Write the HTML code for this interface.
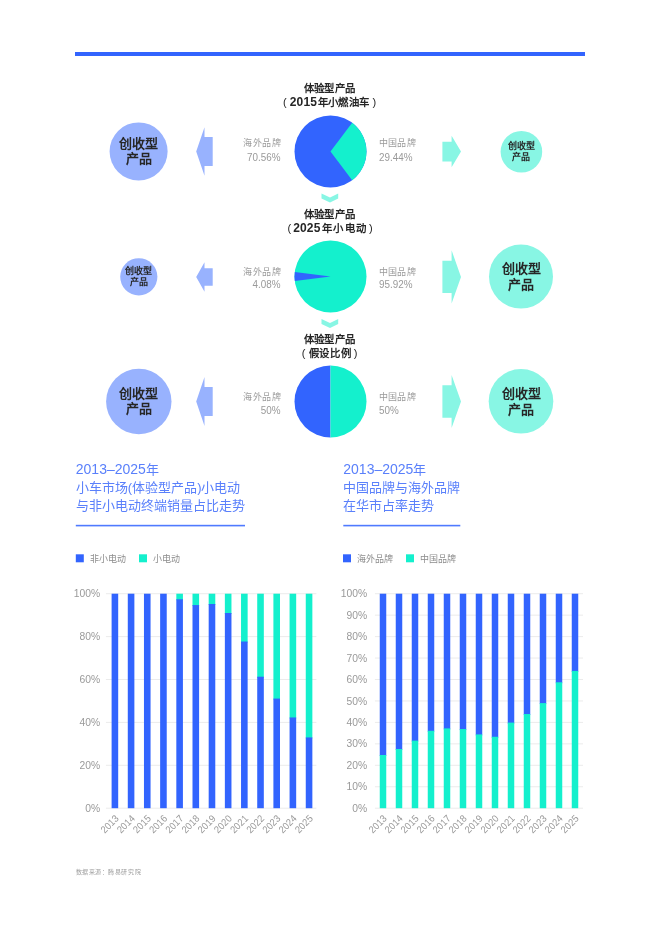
<!DOCTYPE html>
<html lang="zh-CN"><head><meta charset="utf-8"><title>小车市场</title>
<style>
html,body{margin:0;padding:0;background:#fff;}
body{width:660px;height:926px;overflow:hidden;position:relative;font-family:"Liberation Sans", sans-serif;}
svg{position:absolute;left:0;top:0;will-change:transform;}
text{font-family:"Liberation Sans", sans-serif;}
.t{position:absolute;white-space:nowrap;}
</style></head><body>
<svg width="660" height="926" viewBox="0 0 660 926">

<rect x="75" y="52" width="510" height="4" fill="#3264fe"/>
<circle cx="330.5" cy="151.5" r="36" fill="#3264fe"/>
<path d="M330.5,151.5 L352.17,122.75 A36,36 0 0 1 352.17,180.25 Z" fill="#14f0cd"/>
<circle cx="330.5" cy="276.5" r="36" fill="#14f0cd"/>
<path d="M330.5,276.5 L294.80,281.10 A36,36 0 0 1 294.80,271.90 Z" fill="#3264fe"/>
<path d="M330.5,401.5 L330.50,437.50 A36,36 0 0 1 330.50,365.50 Z" fill="#3264fe"/>
<path d="M330.5,401.5 L330.50,365.50 A36,36 0 0 1 330.50,437.50 Z" fill="#14f0cd"/>
<polygon points="321.5,193.6 330,197.6 338.2,193.6 338.2,198.6 330,202.6 321.5,198.6" fill="#88f6e4"/>
<polygon points="321.5,319.0 330,323.0 338.2,319.0 338.2,324.0 330,328.0 321.5,324.0" fill="#88f6e4"/>
<polygon points="212.7,137.0 204.5,137.0 204.5,127.3 196.2,151.5 204.5,175.7 204.5,166.0 212.7,166.0" fill="#98b2fe"/>
<polygon points="442.4,141.79999999999998 451.6,141.79999999999998 451.6,135.85 461,151.6 451.6,167.35 451.6,161.4 442.4,161.4" fill="#88f6e4"/>
<polygon points="212.7,268.2 204.5,268.2 204.5,262.3 196.2,277 204.5,291.7 204.5,285.8 212.7,285.8" fill="#98b2fe"/>
<polygon points="442.4,260.79999999999995 451.6,260.79999999999995 451.6,250.29999999999998 461,276.9 451.6,303.5 451.6,293.0 442.4,293.0" fill="#88f6e4"/>
<polygon points="212.7,387.0 204.5,387.0 204.5,377.1 196.2,401.5 204.5,425.9 204.5,416.0 212.7,416.0" fill="#98b2fe"/>
<polygon points="442.4,385.2 451.6,385.2 451.6,375.0 461,401.5 451.6,428.0 451.6,417.8 442.4,417.8" fill="#88f6e4"/>
<circle cx="138.6" cy="151.4" r="29" fill="#98b2fe"/>
<text x="138.65" y="147.70" font-size="13" font-weight="bold" fill="#262626" text-anchor="middle">创收型</text>
<text x="138.65" y="163.30" font-size="13" font-weight="bold" fill="#262626" text-anchor="middle">产品</text>
<circle cx="521.4" cy="151.8" r="20.8" fill="#88f6e4"/>
<text x="521.35" y="148.60" font-size="9" font-weight="bold" fill="#262626" text-anchor="middle">创收型</text>
<text x="521.35" y="160.40" font-size="9" font-weight="bold" fill="#262626" text-anchor="middle">产品</text>
<circle cx="138.8" cy="276.8" r="18.6" fill="#98b2fe"/>
<text x="138.75" y="273.70" font-size="9" font-weight="bold" fill="#262626" text-anchor="middle">创收型</text>
<text x="138.75" y="285.40" font-size="9" font-weight="bold" fill="#262626" text-anchor="middle">产品</text>
<circle cx="521" cy="276.6" r="32" fill="#88f6e4"/>
<text x="521.25" y="273.30" font-size="13" font-weight="bold" fill="#262626" text-anchor="middle">创收型</text>
<text x="521.25" y="289.20" font-size="13" font-weight="bold" fill="#262626" text-anchor="middle">产品</text>
<circle cx="138.8" cy="401.5" r="32.7" fill="#98b2fe"/>
<text x="138.65" y="397.70" font-size="13" font-weight="bold" fill="#262626" text-anchor="middle">创收型</text>
<text x="138.65" y="413.30" font-size="13" font-weight="bold" fill="#262626" text-anchor="middle">产品</text>
<circle cx="521" cy="401.3" r="32.3" fill="#88f6e4"/>
<text x="521.25" y="397.80" font-size="13" font-weight="bold" fill="#262626" text-anchor="middle">创收型</text>
<text x="521.25" y="413.90" font-size="13" font-weight="bold" fill="#262626" text-anchor="middle">产品</text>
<text x="303.60" y="92.20" font-size="10.4" font-weight="bold" fill="#262626" text-anchor="start" letter-spacing="0.4">体验型产品</text>
<text x="303.60" y="218.40" font-size="10.4" font-weight="bold" fill="#262626" text-anchor="start" letter-spacing="0.4">体验型产品</text>
<text x="303.60" y="343.40" font-size="10.4" font-weight="bold" fill="#262626" text-anchor="start" letter-spacing="0.4">体验型产品</text>
<text x="283.00" y="105.80" font-size="11" font-weight="normal" fill="#262626" text-anchor="start">(</text>
<text x="289.80" y="105.80" font-size="12" font-weight="bold" fill="#262626" text-anchor="start" letter-spacing="0.15">2015</text>
<text x="317.60" y="105.80" font-size="10.4" font-weight="bold" fill="#262626" text-anchor="start" letter-spacing="0.4">年小燃油车</text>
<text x="372.40" y="105.80" font-size="11" font-weight="normal" fill="#262626" text-anchor="start">)</text>
<text x="287.40" y="232.00" font-size="11" font-weight="normal" fill="#262626" text-anchor="start">(</text>
<text x="293.20" y="232.00" font-size="12" font-weight="bold" fill="#262626" text-anchor="start" letter-spacing="0.15">2025</text>
<text x="322.10" y="232.00" font-size="10.4" font-weight="bold" fill="#262626" text-anchor="start" letter-spacing="1.4">年小电动</text>
<text x="368.90" y="232.00" font-size="11" font-weight="normal" fill="#262626" text-anchor="start">)</text>
<text x="301.80" y="357.00" font-size="11" font-weight="normal" fill="#262626" text-anchor="start">(</text>
<text x="308.90" y="357.00" font-size="10.4" font-weight="bold" fill="#262626" text-anchor="start" letter-spacing="0.6">假设比例</text>
<text x="353.80" y="357.00" font-size="11" font-weight="normal" fill="#262626" text-anchor="start">)</text>
<text x="281.0" y="146.30" font-size="9" letter-spacing="0.4" fill="#9a9a9a" text-anchor="end">海外品牌</text>
<text transform="translate(280.6,160.80) scale(0.97,1)" font-size="10.2" fill="#9a9a9a" text-anchor="end">70.56%</text>
<text x="378.7" y="146.30" font-size="9" letter-spacing="0.4" fill="#9a9a9a">中国品牌</text>
<text transform="translate(379.0,160.80) scale(0.97,1)" font-size="10.2" fill="#9a9a9a">29.44%</text>
<text x="281.0" y="274.70" font-size="9" letter-spacing="0.4" fill="#9a9a9a" text-anchor="end">海外品牌</text>
<text transform="translate(280.6,288.30) scale(0.97,1)" font-size="10.2" fill="#9a9a9a" text-anchor="end">4.08%</text>
<text x="378.7" y="274.70" font-size="9" letter-spacing="0.4" fill="#9a9a9a">中国品牌</text>
<text transform="translate(379.0,288.30) scale(0.97,1)" font-size="10.2" fill="#9a9a9a">95.92%</text>
<text x="281.0" y="399.70" font-size="9" letter-spacing="0.4" fill="#9a9a9a" text-anchor="end">海外品牌</text>
<text transform="translate(280.6,413.70) scale(0.97,1)" font-size="10.2" fill="#9a9a9a" text-anchor="end">50%</text>
<text x="378.7" y="399.70" font-size="9" letter-spacing="0.4" fill="#9a9a9a">中国品牌</text>
<text transform="translate(379.0,413.70) scale(0.97,1)" font-size="10.2" fill="#9a9a9a">50%</text>
<text x="75.8" y="474.2" font-size="13" fill="#5a80fb"><tspan font-size="14">2013–2025</tspan>年</text>
<text x="75.8" y="492.3" font-size="13" fill="#5a80fb">小车市场(体验型产品)小电动</text>
<text x="75.8" y="510.0" font-size="13" fill="#5a80fb">与非小电动终端销量占比走势</text>
<rect x="75.8" y="524.8" width="169.2" height="1.6" fill="#4f7aff"/>
<text x="343.3" y="474.2" font-size="13" fill="#5a80fb"><tspan font-size="14">2013–2025</tspan>年</text>
<text x="343.3" y="492.3" font-size="13" fill="#5a80fb">中国品牌与海外品牌</text>
<text x="343.3" y="510.0" font-size="13" fill="#5a80fb">在华市占率走势</text>
<rect x="343.3" y="524.8" width="117" height="1.6" fill="#4f7aff"/>
<rect x="75.8" y="554.3" width="8" height="8" fill="#3264fe"/>
<text x="89.8" y="562" font-size="9" fill="#8c8c8c">非小电动</text>
<rect x="139" y="554.3" width="8" height="8" fill="#14f0cd"/>
<text x="152.8" y="562" font-size="9" fill="#8c8c8c">小电动</text>
<rect x="343" y="554.3" width="8" height="8" fill="#3264fe"/>
<text x="356.8" y="562" font-size="9" fill="#8c8c8c">海外品牌</text>
<rect x="406" y="554.3" width="8" height="8" fill="#14f0cd"/>
<text x="420.1" y="562" font-size="9" fill="#8c8c8c">中国品牌</text>
<rect x="105.9" y="807.70" width="210.49999999999997" height="1" fill="#ebebeb"/>
<text x="100.2" y="811.80" font-size="10.3" fill="#999" text-anchor="end">0%</text>
<rect x="105.9" y="764.80" width="210.49999999999997" height="1" fill="#ebebeb"/>
<text x="100.2" y="768.90" font-size="10.3" fill="#999" text-anchor="end">20%</text>
<rect x="105.9" y="721.90" width="210.49999999999997" height="1" fill="#ebebeb"/>
<text x="100.2" y="726.00" font-size="10.3" fill="#999" text-anchor="end">40%</text>
<rect x="105.9" y="679.00" width="210.49999999999997" height="1" fill="#ebebeb"/>
<text x="100.2" y="683.10" font-size="10.3" fill="#999" text-anchor="end">60%</text>
<rect x="105.9" y="636.10" width="210.49999999999997" height="1" fill="#ebebeb"/>
<text x="100.2" y="640.20" font-size="10.3" fill="#999" text-anchor="end">80%</text>
<rect x="105.9" y="593.20" width="210.49999999999997" height="1" fill="#ebebeb"/>
<text x="100.2" y="597.30" font-size="10.3" fill="#999" text-anchor="end">100%</text>
<rect x="111.60" y="593.70" width="6.6" height="214.50" fill="#3264fe"/>
<text transform="translate(114.10,813.9) rotate(-45) scale(0.93,1)" font-size="10" letter-spacing="0.0" fill="#999" text-anchor="end" dominant-baseline="hanging">2013</text>
<rect x="127.78" y="593.70" width="6.6" height="214.50" fill="#3264fe"/>
<text transform="translate(130.28,813.9) rotate(-45) scale(0.93,1)" font-size="10" letter-spacing="0.0" fill="#999" text-anchor="end" dominant-baseline="hanging">2014</text>
<rect x="143.96" y="593.70" width="6.6" height="214.50" fill="#3264fe"/>
<text transform="translate(146.46,813.9) rotate(-45) scale(0.93,1)" font-size="10" letter-spacing="0.0" fill="#999" text-anchor="end" dominant-baseline="hanging">2015</text>
<rect x="160.14" y="593.70" width="6.6" height="214.50" fill="#3264fe"/>
<text transform="translate(162.64,813.9) rotate(-45) scale(0.93,1)" font-size="10" letter-spacing="0.0" fill="#999" text-anchor="end" dominant-baseline="hanging">2016</text>
<rect x="176.32" y="593.70" width="6.6" height="6.58" fill="#14f0cd"/>
<rect x="176.32" y="599.28" width="6.6" height="208.92" fill="#3264fe"/>
<text transform="translate(178.82,813.9) rotate(-45) scale(0.93,1)" font-size="10" letter-spacing="0.0" fill="#999" text-anchor="end" dominant-baseline="hanging">2017</text>
<rect x="192.50" y="593.70" width="6.6" height="12.37" fill="#14f0cd"/>
<rect x="192.50" y="605.07" width="6.6" height="203.13" fill="#3264fe"/>
<text transform="translate(195.00,813.9) rotate(-45) scale(0.93,1)" font-size="10" letter-spacing="0.0" fill="#999" text-anchor="end" dominant-baseline="hanging">2018</text>
<rect x="208.68" y="593.70" width="6.6" height="11.30" fill="#14f0cd"/>
<rect x="208.68" y="604.00" width="6.6" height="204.20" fill="#3264fe"/>
<text transform="translate(211.18,813.9) rotate(-45) scale(0.93,1)" font-size="10" letter-spacing="0.0" fill="#999" text-anchor="end" dominant-baseline="hanging">2019</text>
<rect x="224.86" y="593.70" width="6.6" height="20.31" fill="#14f0cd"/>
<rect x="224.86" y="613.01" width="6.6" height="195.19" fill="#3264fe"/>
<text transform="translate(227.36,813.9) rotate(-45) scale(0.93,1)" font-size="10" letter-spacing="0.0" fill="#999" text-anchor="end" dominant-baseline="hanging">2020</text>
<rect x="241.04" y="593.70" width="6.6" height="48.83" fill="#14f0cd"/>
<rect x="241.04" y="641.53" width="6.6" height="166.67" fill="#3264fe"/>
<text transform="translate(243.54,813.9) rotate(-45) scale(0.93,1)" font-size="10" letter-spacing="0.0" fill="#999" text-anchor="end" dominant-baseline="hanging">2021</text>
<rect x="257.22" y="593.70" width="6.6" height="84.01" fill="#14f0cd"/>
<rect x="257.22" y="676.71" width="6.6" height="131.49" fill="#3264fe"/>
<text transform="translate(259.72,813.9) rotate(-45) scale(0.93,1)" font-size="10" letter-spacing="0.0" fill="#999" text-anchor="end" dominant-baseline="hanging">2022</text>
<rect x="273.40" y="593.70" width="6.6" height="105.89" fill="#14f0cd"/>
<rect x="273.40" y="698.59" width="6.6" height="109.61" fill="#3264fe"/>
<text transform="translate(275.90,813.9) rotate(-45) scale(0.93,1)" font-size="10" letter-spacing="0.0" fill="#999" text-anchor="end" dominant-baseline="hanging">2023</text>
<rect x="289.58" y="593.70" width="6.6" height="124.77" fill="#14f0cd"/>
<rect x="289.58" y="717.47" width="6.6" height="90.73" fill="#3264fe"/>
<text transform="translate(292.08,813.9) rotate(-45) scale(0.93,1)" font-size="10" letter-spacing="0.0" fill="#999" text-anchor="end" dominant-baseline="hanging">2024</text>
<rect x="305.76" y="593.70" width="6.6" height="144.72" fill="#14f0cd"/>
<rect x="305.76" y="737.42" width="6.6" height="70.78" fill="#3264fe"/>
<text transform="translate(308.26,813.9) rotate(-45) scale(0.93,1)" font-size="10" letter-spacing="0.0" fill="#999" text-anchor="end" dominant-baseline="hanging">2025</text>
<rect x="374.9" y="807.70" width="208.10000000000002" height="1" fill="#ebebeb"/>
<text x="367.1" y="811.80" font-size="10.3" fill="#999" text-anchor="end">0%</text>
<rect x="374.9" y="786.25" width="208.10000000000002" height="1" fill="#ebebeb"/>
<text x="367.1" y="790.35" font-size="10.3" fill="#999" text-anchor="end">10%</text>
<rect x="374.9" y="764.80" width="208.10000000000002" height="1" fill="#ebebeb"/>
<text x="367.1" y="768.90" font-size="10.3" fill="#999" text-anchor="end">20%</text>
<rect x="374.9" y="743.35" width="208.10000000000002" height="1" fill="#ebebeb"/>
<text x="367.1" y="747.45" font-size="10.3" fill="#999" text-anchor="end">30%</text>
<rect x="374.9" y="721.90" width="208.10000000000002" height="1" fill="#ebebeb"/>
<text x="367.1" y="726.00" font-size="10.3" fill="#999" text-anchor="end">40%</text>
<rect x="374.9" y="700.45" width="208.10000000000002" height="1" fill="#ebebeb"/>
<text x="367.1" y="704.55" font-size="10.3" fill="#999" text-anchor="end">50%</text>
<rect x="374.9" y="679.00" width="208.10000000000002" height="1" fill="#ebebeb"/>
<text x="367.1" y="683.10" font-size="10.3" fill="#999" text-anchor="end">60%</text>
<rect x="374.9" y="657.55" width="208.10000000000002" height="1" fill="#ebebeb"/>
<text x="367.1" y="661.65" font-size="10.3" fill="#999" text-anchor="end">70%</text>
<rect x="374.9" y="636.10" width="208.10000000000002" height="1" fill="#ebebeb"/>
<text x="367.1" y="640.20" font-size="10.3" fill="#999" text-anchor="end">80%</text>
<rect x="374.9" y="614.65" width="208.10000000000002" height="1" fill="#ebebeb"/>
<text x="367.1" y="618.75" font-size="10.3" fill="#999" text-anchor="end">90%</text>
<rect x="374.9" y="593.20" width="208.10000000000002" height="1" fill="#ebebeb"/>
<text x="367.1" y="597.30" font-size="10.3" fill="#999" text-anchor="end">100%</text>
<rect x="379.75" y="593.70" width="6.5" height="162.30" fill="#3264fe"/>
<rect x="379.75" y="755.00" width="6.5" height="53.20" fill="#14f0cd"/>
<text transform="translate(382.20,813.9) rotate(-45) scale(0.93,1)" font-size="10" letter-spacing="0.0" fill="#999" text-anchor="end" dominant-baseline="hanging">2013</text>
<rect x="395.75" y="593.70" width="6.5" height="156.30" fill="#3264fe"/>
<rect x="395.75" y="749.00" width="6.5" height="59.20" fill="#14f0cd"/>
<text transform="translate(398.20,813.9) rotate(-45) scale(0.93,1)" font-size="10" letter-spacing="0.0" fill="#999" text-anchor="end" dominant-baseline="hanging">2014</text>
<rect x="411.75" y="593.70" width="6.5" height="147.93" fill="#3264fe"/>
<rect x="411.75" y="740.63" width="6.5" height="67.57" fill="#14f0cd"/>
<text transform="translate(414.20,813.9) rotate(-45) scale(0.93,1)" font-size="10" letter-spacing="0.0" fill="#999" text-anchor="end" dominant-baseline="hanging">2015</text>
<rect x="427.75" y="593.70" width="6.5" height="138.07" fill="#3264fe"/>
<rect x="427.75" y="730.77" width="6.5" height="77.43" fill="#14f0cd"/>
<text transform="translate(430.20,813.9) rotate(-45) scale(0.93,1)" font-size="10" letter-spacing="0.0" fill="#999" text-anchor="end" dominant-baseline="hanging">2016</text>
<rect x="443.75" y="593.70" width="6.5" height="135.71" fill="#3264fe"/>
<rect x="443.75" y="728.41" width="6.5" height="79.79" fill="#14f0cd"/>
<text transform="translate(446.20,813.9) rotate(-45) scale(0.93,1)" font-size="10" letter-spacing="0.0" fill="#999" text-anchor="end" dominant-baseline="hanging">2017</text>
<rect x="459.75" y="593.70" width="6.5" height="136.35" fill="#3264fe"/>
<rect x="459.75" y="729.05" width="6.5" height="79.15" fill="#14f0cd"/>
<text transform="translate(462.20,813.9) rotate(-45) scale(0.93,1)" font-size="10" letter-spacing="0.0" fill="#999" text-anchor="end" dominant-baseline="hanging">2018</text>
<rect x="475.75" y="593.70" width="6.5" height="141.71" fill="#3264fe"/>
<rect x="475.75" y="734.41" width="6.5" height="73.79" fill="#14f0cd"/>
<text transform="translate(478.20,813.9) rotate(-45) scale(0.93,1)" font-size="10" letter-spacing="0.0" fill="#999" text-anchor="end" dominant-baseline="hanging">2019</text>
<rect x="491.75" y="593.70" width="6.5" height="144.07" fill="#3264fe"/>
<rect x="491.75" y="736.77" width="6.5" height="71.43" fill="#14f0cd"/>
<text transform="translate(494.20,813.9) rotate(-45) scale(0.93,1)" font-size="10" letter-spacing="0.0" fill="#999" text-anchor="end" dominant-baseline="hanging">2020</text>
<rect x="507.75" y="593.70" width="6.5" height="129.91" fill="#3264fe"/>
<rect x="507.75" y="722.61" width="6.5" height="85.59" fill="#14f0cd"/>
<text transform="translate(510.20,813.9) rotate(-45) scale(0.93,1)" font-size="10" letter-spacing="0.0" fill="#999" text-anchor="end" dominant-baseline="hanging">2021</text>
<rect x="523.75" y="593.70" width="6.5" height="121.33" fill="#3264fe"/>
<rect x="523.75" y="714.03" width="6.5" height="94.17" fill="#14f0cd"/>
<text transform="translate(526.20,813.9) rotate(-45) scale(0.93,1)" font-size="10" letter-spacing="0.0" fill="#999" text-anchor="end" dominant-baseline="hanging">2022</text>
<rect x="539.75" y="593.70" width="6.5" height="110.39" fill="#3264fe"/>
<rect x="539.75" y="703.10" width="6.5" height="105.11" fill="#14f0cd"/>
<text transform="translate(542.20,813.9) rotate(-45) scale(0.93,1)" font-size="10" letter-spacing="0.0" fill="#999" text-anchor="end" dominant-baseline="hanging">2023</text>
<rect x="555.75" y="593.70" width="6.5" height="89.59" fill="#3264fe"/>
<rect x="555.75" y="682.29" width="6.5" height="125.91" fill="#14f0cd"/>
<text transform="translate(558.20,813.9) rotate(-45) scale(0.93,1)" font-size="10" letter-spacing="0.0" fill="#999" text-anchor="end" dominant-baseline="hanging">2024</text>
<rect x="571.75" y="593.70" width="6.5" height="78.22" fill="#3264fe"/>
<rect x="571.75" y="670.92" width="6.5" height="137.28" fill="#14f0cd"/>
<text transform="translate(574.20,813.9) rotate(-45) scale(0.93,1)" font-size="10" letter-spacing="0.0" fill="#999" text-anchor="end" dominant-baseline="hanging">2025</text>
<text x="75.6" y="874.3" font-size="6" letter-spacing="0.55" fill="#a0a0a0">数据来源：腾易研究院</text>
</svg>
</body></html>
